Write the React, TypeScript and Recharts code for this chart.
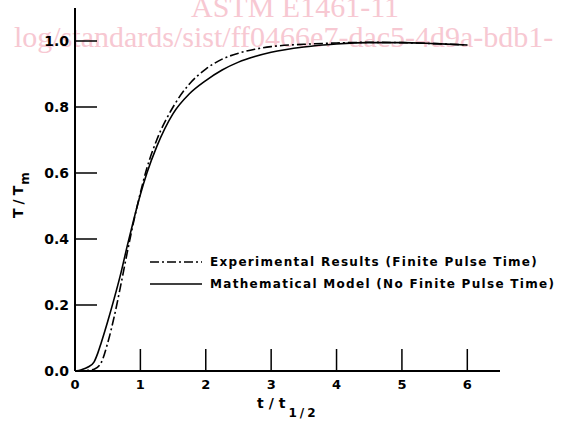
import React from 'react';
import { LineChart, Line, XAxis, YAxis, Legend, Label } from 'recharts';

// Mathematical model (no finite pulse time) — solid
const MODEL_T = [0, 0.1, 0.2, 0.29, 0.35, 0.4, 0.5, 0.6, 0.7, 0.8, 0.9, 1.0, 1.1, 1.25, 1.5, 1.75, 2.0, 2.25, 2.5, 2.75, 3.0, 3.5, 4.0, 4.5, 5.0, 5.5, 6.0];
const MODEL_V = [0, 0.004, 0.012, 0.027, 0.055, 0.085, 0.15, 0.22, 0.295, 0.38, 0.46, 0.535, 0.6, 0.68, 0.78, 0.84, 0.88, 0.912, 0.936, 0.953, 0.966, 0.982, 0.991, 0.995, 0.995, 0.992, 0.988];

// Experimental results (finite pulse time) — dash-dot
const EXP_T = [0, 0.2, 0.3, 0.4, 0.5, 0.6, 0.7, 0.8, 0.9, 1.0, 1.1, 1.25, 1.5, 1.75, 2.0, 2.25, 2.5, 2.75, 3.0, 3.5, 4.0, 4.5, 5.0, 5.5, 6.0];
const EXP_V = [0, 0.002, 0.006, 0.025, 0.085, 0.165, 0.26, 0.36, 0.455, 0.54, 0.615, 0.7, 0.8, 0.87, 0.915, 0.945, 0.963, 0.975, 0.983, 0.99, 0.994, 0.996, 0.995, 0.992, 0.988];

const X_TICKS = [0, 1, 2, 3, 4, 5, 6];
const Y_TICKS = [0, 0.2, 0.4, 0.6, 0.8, 1.0];

const SERIES_NAMES = ['Experimental Results (Finite Pulse Time)', 'Mathematical Model (No Finite Pulse Time)'];
const DASH = '9 3 2 3';

const modelData = MODEL_T.map((t, i) => ({ t, v: MODEL_V[i] }));
const expData = EXP_T.map((t, i) => ({ t, v: EXP_V[i] }));

const FONT = '"DejaVu Sans", sans-serif';

function XTick(props: any) {
  const { x, y, payload } = props;
  const v = payload.value;
  return (
    <g>
      {v !== 0 && <line x1={x} y1={y} x2={x} y2={y - 22} stroke="#000" strokeWidth={1.5} />}
      <text x={x} y={y + 18} textAnchor="middle" fontFamily={FONT} fontWeight="bold" fontSize={13} fill="#000">
        {String(v)}
      </text>
    </g>
  );
}

function YTick(props: any) {
  const { x, y, payload } = props;
  const v = payload.value;
  return (
    <g>
      {v !== 0 && <line x1={x} y1={y} x2={x + 22} y2={y} stroke="#000" strokeWidth={1.5} />}
      <text x={x - 6} y={y + 5} textAnchor="end" fontFamily={FONT} fontWeight="bold" fontSize={14} fill="#000">
        {v.toFixed(1)}
      </text>
    </g>
  );
}

function LegendContent() {
  const dashes = [DASH, undefined];
  return (
    <div style={{ fontFamily: FONT, fontSize: 12, letterSpacing: 1.3, fontWeight: 600, color: '#000' }}>
      {SERIES_NAMES.map((name, i) => (
        <div key={name} style={{ display: 'flex', alignItems: 'center', height: 22, whiteSpace: 'nowrap' }}>
          <svg width={52} height={10} style={{ marginRight: 8 }}>
            <line x1={0} y1={5} x2={52} y2={5} stroke="#000" strokeWidth={1.6} strokeDasharray={dashes[i]} />
          </svg>
          <span>{name}</span>
        </div>
      ))}
    </div>
  );
}

export default function App() {
  return (
    <div style={{ position: 'absolute', left: 0, top: 0, width: 561, height: 424, background: '#fff', overflow: 'hidden' }}>
      <div style={{ position: 'absolute', left: 0, top: 0, width: 561, height: 424, fontFamily: '"Liberation Serif", serif', color: '#f7c8d2', fontSize: 30, whiteSpace: 'nowrap' }}>
        <div style={{ position: 'absolute', left: 191, top: -9, lineHeight: '32px' }}>ASTM E1461-11</div>
        <div style={{ position: 'absolute', left: 14, top: 21, lineHeight: '32px' }}>log/standards/sist/ff0466e7-dac5-4d9a-bdb1-</div>
      </div>
      <div style={{ position: 'absolute', left: 0, top: 0 }}>
        <LineChart width={561} height={424} margin={{ top: 8, right: 61, bottom: 0, left: 0 }}>
          <XAxis
            type="number"
            dataKey="t"
            domain={[0, 6.5]}
            ticks={X_TICKS}
            tickSize={0}
            tickMargin={0}
            tickLine={false}
            height={53}
            tick={<XTick />}
            axisLine={{ stroke: '#000', strokeWidth: 2 }}
            allowDataOverflow
          >
            <Label
              content={(p: any) => {
                const vb = p.viewBox;
                return (
                  <text x={vb.x + 182} y={vb.y + 37} fontFamily={FONT} fontWeight="bold" fontSize={14} fill="#000" letterSpacing={5}>
                    t/t
                    <tspan fontSize={12} dy={9} dx={-2} letterSpacing={3}>1/2</tspan>
                  </text>
                );
              }}
            />
          </XAxis>
          <YAxis
            type="number"
            domain={[0, 1.1]}
            ticks={Y_TICKS}
            tickSize={0}
            tickMargin={0}
            tickLine={false}
            width={75}
            tick={<YTick />}
            axisLine={{ stroke: '#000', strokeWidth: 2 }}
            allowDataOverflow
          >
            <Label
              content={() => {
                return (
                  <text x={0} y={0} transform="translate(23,218) rotate(-90)" fontFamily={FONT} fontWeight="bold" fontSize={14} fill="#000" letterSpacing={4}>
                    T/T
                    <tspan fontSize={12} dy={6} dx={-3}>m</tspan>
                  </text>
                );
              }}
            />
          </YAxis>
          <Legend
            layout="vertical"
            align="center"
            verticalAlign="middle"
            content={<LegendContent />}
            wrapperStyle={{ position: 'absolute', left: 150, top: 251, width: 410, height: 44 }}
          />
          <Line
            data={expData}
            dataKey="v"
            name={SERIES_NAMES[0]}
            type="monotone"
            stroke="#000"
            strokeWidth={1.6}
            strokeDasharray={DASH}
            dot={false}
            isAnimationActive={false}
          />
          <Line
            data={modelData}
            dataKey="v"
            name={SERIES_NAMES[1]}
            type="monotone"
            stroke="#000"
            strokeWidth={1.6}
            dot={false}
            isAnimationActive={false}
          />
        </LineChart>
      </div>
    </div>
  );
}
